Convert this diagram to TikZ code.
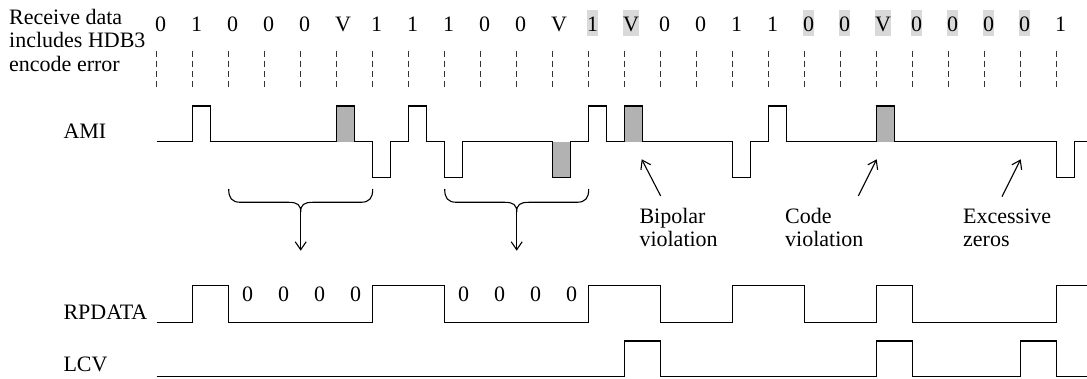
\documentclass[tikz,border=0pt]{standalone}
\usepackage{fontspec}
\setmainfont{Liberation Serif}
\usetikzlibrary{arrows.meta}
\definecolor{hlgray}{RGB}{217,217,217}
\begin{document}
\begin{tikzpicture}[x=1pt,y=-1pt,
  lab/.style={font=\fontsize{22}{26}\selectfont, inner sep=0pt, anchor=base west},
  bitlab/.style={font=\fontsize{22}{26}\selectfont, anchor=base west, inner xsep=0.4pt, inner ysep=0pt, text height=21.7pt, text depth=4pt},
  hl/.style={fill=hlgray},
  wave/.style={line width=1.4pt, line join=miter},
  tick/.style={dash pattern=on 6.8pt off 3.2pt, line width=1.3pt, draw=black!80},
  hatch/.style={fill=black!30},
  arr/.style={line width=1.1pt, -{Straight Barb[length=8pt,width=11pt]}},
  brace/.style={line width=1.1pt}]
\useasboundingbox (0,0) rectangle (1087,379);

% left labels
\node[lab] (t1) at (9,25) {Receive data};
\node[lab] (t2) at (9,47.8) {includes HDB3};
\node[lab] (t3) at (9,71.5) {encode error};
\node[lab] (ami) at (63.3,138.3) {AMI};
\node[lab] (rp) at (63.3,319.3) {RPDATA};
\node[lab] (lcv) at (63.3,371.7) {LCV};

% bit labels
\foreach \i/\t in {0/0,1/1,2/0,3/0,4/0,5/V,6/1,7/1,8/1,9/0,10/0,11/V,14/0,15/0,16/1,17/1,25/1}
  \node[bitlab] (b\i) at ({156.7+36*\i-2.3},31.7) {\t};
\foreach \i/\t in {12/1,13/V,18/0,19/0,20/V,21/0,22/0,23/0,24/0}
  \node[bitlab,hl] (b\i) at ({156.7+36*\i-2.3},31.7) {\t};

% dashed ticks
\foreach \i in {0,...,25}
  \draw[tick] ({156.7+36*\i},50.7) -- ({156.7+36*\i},88.3);

% AMI hatched pulses
\foreach \i/\y in {5/106,11/177.7,13/106,20/106}
  \fill[hatch] ({156.7+36*\i},141.7) rectangle ({156.7+36*\i+18},\y);

% AMI waveform
\draw[wave] (156.7,141.7)
  \foreach \i/\y in {1/106,5/106,6/177.7,7/106,8/177.7,11/177.7,12/106,13/106,16/177.7,17/106,20/106,25/177.7}
  { -- ({156.7+36*\i},141.7) -- ({156.7+36*\i},\y) -- ({156.7+36*\i+18},\y) -- ({156.7+36*\i+18},141.7) }
  -- (1087,141.7);

% RPDATA waveform
\draw[wave] (156.7,322.3)
  \foreach \a/\b in {1/2,6/8,12/14,16/18,20/21}
  { -- ({156.7+36*\a},322.3) -- ({156.7+36*\a},285.7) -- ({156.7+36*\b},285.7) -- ({156.7+36*\b},322.3) }
  -- ({156.7+36*25},322.3) -- ({156.7+36*25},285.7) -- (1087,285.7);

% LCV waveform
\draw[wave] (156.7,376.7)
  \foreach \a in {13,20,24}
  { -- ({156.7+36*\a},376.7) -- ({156.7+36*\a},341) -- ({156.7+36*\a+36},341) -- ({156.7+36*\a+36},376.7) }
  -- (1087,376.7);

% decoded zeros on RPDATA
\foreach \i in {2,3,4,5,8,9,10,11}
  \node[lab, anchor=base] (z\i) at ({156.7+36*\i+19},301.5) {0};

% braces and arrows
\foreach \a/\n in {2/1,8/2}{
  \pgfmathsetmacro{\L}{156.7+36*\a}
  \pgfmathsetmacro{\C}{156.7+36*(\a+2)}
  \pgfmathsetmacro{\R}{156.7+36*(\a+4)}
  \draw[brace] (\L,189) .. controls (\L,198) and (\L+3,202.3) .. (\L+12,202.3)
    -- (\C-12,202.3) .. controls (\C-3,202.3) and (\C,205) .. (\C,212)
    .. controls (\C,205) and (\C+3,202.3) .. (\C+12,202.3)
    -- (\R-12,202.3) .. controls (\R-3,202.3) and (\R,198) .. (\R,189);
  \coordinate (bc\n) at (\C,212);
  \coordinate (bt\n) at (\C,250.7);
  \draw[arr] (bc\n) -- (bt\n);
}

% violation annotations
\coordinate (bpT) at (660.7,196);   \coordinate (bpH) at (641.7,159.3);
\coordinate (cvT) at (858.3,196);   \coordinate (cvH) at (876.7,159.3);
\coordinate (ezT) at (1002,196.7);  \coordinate (ezH) at (1020.7,159.3);
\draw[arr] (bpT) -- (bpH);
\draw[arr] (cvT) -- (cvH);
\draw[arr] (ezT) -- (ezH);

\node[lab] (bp1) at (639.3,223.3) {Bipolar};
\node[lab] (bp2) at (639.3,246.7) {violation};
\node[lab] (cv1) at (785,223.3) {Code};
\node[lab] (cv2) at (785,246.7) {violation};
\node[lab] (ez1) at (963,223.3) {Excessive};
\node[lab] (ez2) at (963,246.7) {zeros};
\end{tikzpicture}
\end{document}
